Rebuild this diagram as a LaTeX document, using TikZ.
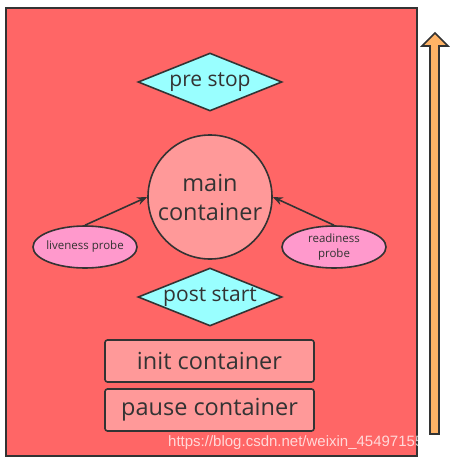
\documentclass[tikz,border=0pt]{standalone}
\usepackage{fontspec}
\setmainfont{Open Sans}
\newfontfamily\wmfont{Liberation Sans}
\usetikzlibrary{shapes.geometric,arrows.meta}
\definecolor{podred}{HTML}{FF6666}
\definecolor{lightred}{HTML}{FF9999}
\definecolor{cyanfill}{HTML}{99FFFF}
\definecolor{pinkfill}{HTML}{FF99CC}
\definecolor{orangefill}{HTML}{FFB366}
\definecolor{edge}{HTML}{333333}
\begin{document}
\begin{tikzpicture}[x=1pt,y=-1pt,
  every node/.style={text=edge, inner sep=0pt},
  hookdiamond/.style={diamond, draw=edge, line width=1.6pt, fill=cyanfill, minimum width=144pt, minimum height=58pt, aspect=2.48, font=\fontsize{21}{24}\selectfont},
  probe/.style={ellipse, draw=edge, line width=1.6pt, fill=pinkfill, minimum width=104pt, minimum height=42pt},
  probetext/.style={font=\fontsize{11.5}{15}\selectfont, align=center},
  cbox/.style={rectangle, rounded corners=2.5pt, draw=edge, line width=1.6pt, fill=lightred, minimum width=209pt, minimum height=42pt, font=\fontsize{23.5}{26}\selectfont},
  probearrow/.style={draw=edge, line width=1.6pt, -{Stealth[length=10pt,width=8pt]}}]
\useasboundingbox (0,0) rectangle (450,460);
\node[draw=edge, line width=1.6pt, fill=podred, minimum width=411pt, minimum height=448pt, anchor=north west] (pod) at (5,7) {};
\node[hookdiamond] (prestop) at (210,82) {pre stop};
\node[circle, draw=edge, line width=1.6pt, fill=lightred, minimum size=124pt, align=center, font=\fontsize{23.5}{29}\selectfont] (main) at (210,197) {main\\container};
\node[probe] (live) at (85,247) {};
\node[probetext] (livetext) at (live.center) {liveness probe};
\node[probe] (ready) at (334,247) {};
\node[probetext] (readytext) at (ready.center) {readiness\\probe};
\node[hookdiamond] (poststart) at (210,297) {post start};
\node[cbox] (init) at (209.5,361) {init container};
\node[cbox] (pause) at (209.5,410) {pause container};
\draw[probearrow] (live.north) -- (main.west);
\draw[probearrow] (ready.north) -- (main.east);
\coordinate (uptip) at (435,33);
\filldraw[draw=edge, line width=1.6pt, fill=orangefill, line join=miter]
  (430,434) -- (430,46) -- (422,46) -- (uptip) -- (448,46) -- (439,46) -- (439,434) -- cycle;
\node[anchor=base west, text=white, opacity=0.75, font=\wmfont\fontsize{15}{18}\selectfont] (wm) at (168,446) {https://blog.csdn.net/weixin\_45497155};
\end{tikzpicture}
\end{document}
